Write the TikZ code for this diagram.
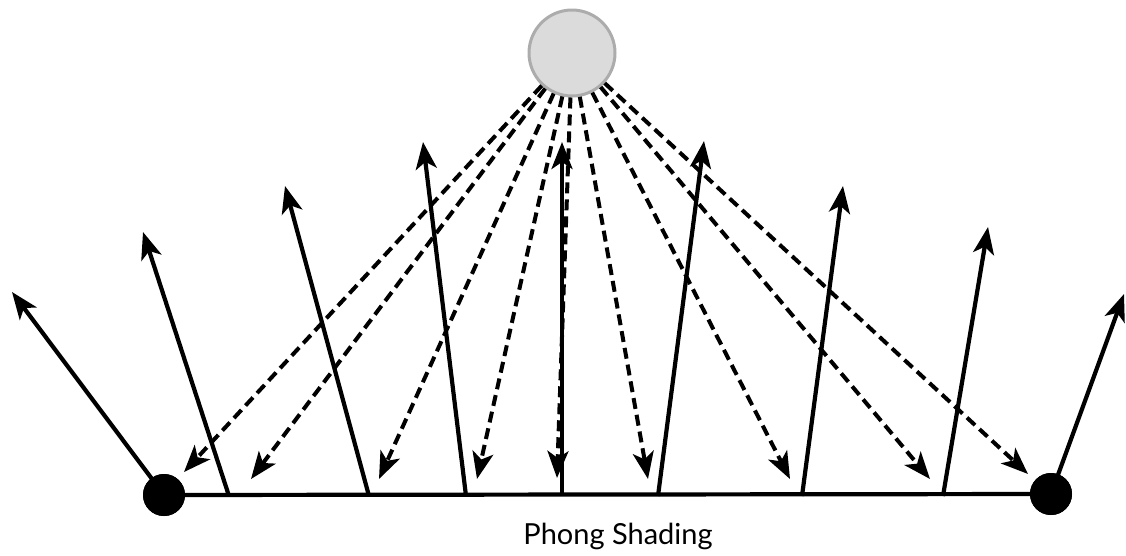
\documentclass[tikz,border=0pt]{standalone}
\usepackage{fontspec}
\setmainfont{Lato}
\usetikzlibrary{arrows.meta}
\begin{document}
\begin{tikzpicture}[x=1pt,y=-1pt,
  tip/.style={-{Stealth[length=27pt,width=21pt,inset=7pt]}},
  normalarrow/.style={tip, line width=4.2pt},
  rayarrow/.style={tip, line width=4pt, dash pattern=on 11pt off 6pt},
  surface/.style={line width=4.2pt},
  vertexdot/.style={circle, fill=black, inner sep=0pt, minimum size=42pt},
  lamp/.style={circle, fill=gray!28, draw=gray!65, line width=3pt, inner sep=0pt, minimum size=86pt}]
\useasboundingbox (0,0) rectangle (1126,555);
% light and surface
\node[lamp] (L) at (572,53) {};
\node[vertexdot] (D1) at (164,495) {};
\node[vertexdot] (D2) at (1051,494) {};
\draw[surface] (D1.center) -- (D2.center);
% normal base points
\coordinate (b2) at (229,496);
\coordinate (b3) at (369,496);
\coordinate (b4) at (466,496);
\coordinate (b5) at (562,496);
\coordinate (b6) at (658,496);
\coordinate (b7) at (802,496);
\coordinate (b8) at (943,496);
% normal tips
\coordinate (n1) at (12,292);
\coordinate (n2) at (143,232);
\coordinate (n3) at (285,186);
\coordinate (n4) at (423,142);
\coordinate (n5) at (562,142);
\coordinate (n6) at (704,141);
\coordinate (n7) at (843,186);
\coordinate (n8) at (988,227);
\coordinate (n9) at (1124,294);
% ray tips
\coordinate (r1) at (184,472);
\coordinate (r2) at (251,479);
\coordinate (r3) at (379,479);
\coordinate (r4) at (477,479);
\coordinate (r5) at (557,478);
\coordinate (r6) at (648,479);
\coordinate (r7) at (790,479);
\coordinate (r8) at (930,479);
\coordinate (r9) at (1028,474);
% rays
\foreach \r in {r1,r2,r3,r4,r5,r6,r7,r8,r9}
  \draw[rayarrow] (L) -- (\r);
% normals
\draw[normalarrow] (D1.center) -- (n1);
\draw[normalarrow] (b2) -- (n2);
\draw[normalarrow] (b3) -- (n3);
\draw[normalarrow] (b4) -- (n4);
\draw[normalarrow] (b5) -- (n5);
\draw[normalarrow] (b6) -- (n6);
\draw[normalarrow] (b7) -- (n7);
\draw[normalarrow] (b8) -- (n8);
\draw[normalarrow] (D2.center) -- (n9);
\node[vertexdot] at (D1) {};
\node[vertexdot] at (D2) {};
% caption
\node[anchor=base, font=\fontsize{29}{34}\selectfont] (cap) at (618,544) {Phong Shading};
\end{tikzpicture}
\end{document}
